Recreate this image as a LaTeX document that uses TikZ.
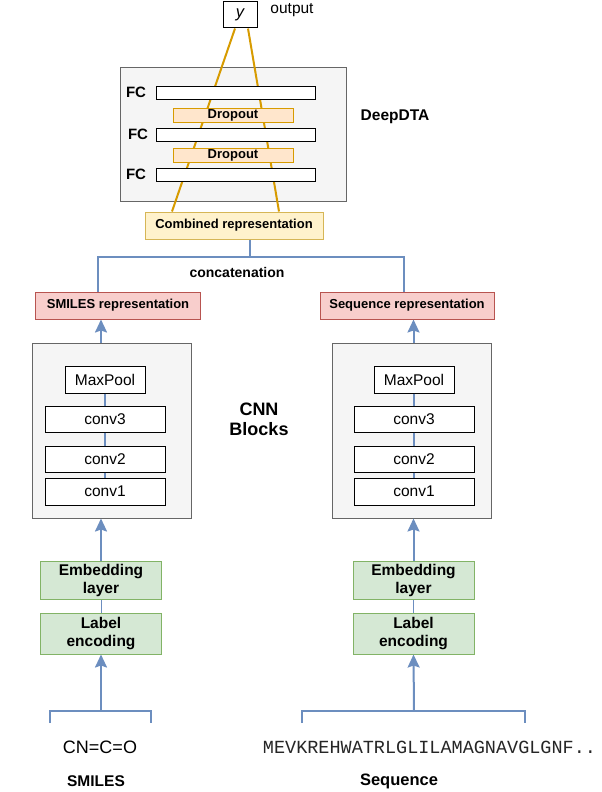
\documentclass[tikz,border=0pt]{standalone}
\usepackage{fontspec}
\setmainfont{Liberation Sans}
\setmonofont{Liberation Mono}
\usetikzlibrary{arrows.meta}

\definecolor{blueline}{HTML}{6C8EBF}
\definecolor{orangeline}{HTML}{D79B00}
\definecolor{grayfill}{HTML}{F5F5F5}
\definecolor{graydraw}{HTML}{666666}
\definecolor{greenfill}{HTML}{D5E8D4}
\definecolor{greendraw}{HTML}{82B366}
\definecolor{redfill}{HTML}{F8CECC}
\definecolor{reddraw}{HTML}{B85450}
\definecolor{yellowfill}{HTML}{FFF2CC}
\definecolor{yellowdraw}{HTML}{D6B656}
\definecolor{dropfill}{HTML}{FFE6CC}

\begin{document}
\begin{tikzpicture}[x=1pt,y=-1pt]
  % Define styles
  \tikzstyle{block} = [draw=graydraw, fill=grayfill, rectangle, line width=1pt, inner sep=0pt]
  \tikzstyle{layer} = [draw=black, fill=white, rectangle, line width=1pt, inner sep=0pt, font=\fontsize{15.5}{18}\selectfont]
  \tikzstyle{fcbar} = [draw=black, fill=white, rectangle, line width=1pt, minimum width=159pt, minimum height=13pt]
  \tikzstyle{drop} = [draw=orangeline, fill=dropfill, rectangle, line width=1pt, inner sep=0pt, minimum width=120pt, minimum height=14pt, font=\fontsize{13}{15}\selectfont\bfseries]
  \tikzstyle{rep} = [draw=reddraw, fill=redfill, rectangle, line width=1pt, inner sep=0pt, minimum height=27pt, font=\fontsize{13}{15}\selectfont\bfseries]
  \tikzstyle{prep} = [draw=greendraw, fill=greenfill, rectangle, line width=1pt, inner sep=0pt, minimum width=121pt, align=center, font=\fontsize{15.5}{18}\selectfont\bfseries]
  \tikzstyle{title} = [align=center, font=\fontsize{16}{20}\selectfont\bfseries]
  \tikzstyle{link} = [draw=blueline, line width=2pt]
  \tikzstyle{arrow} = [link, -{Stealth[length=13pt,width=12pt,inset=2pt]}, blueline]
  \tikzstyle{fcline} = [draw=orangeline, line width=2pt]

  \useasboundingbox (0,0) rectangle (602,792);

  % Output and DeepDTA head
  \node(ybox)[draw=black, fill=white, line width=1pt, minimum width=34pt, minimum height=26pt, inner sep=0pt] at (240,15) {\fontsize{16.5}{18}\selectfont\itshape y};
  \node(outtxt) at (292,10) {\fontsize{15.5}{18}\selectfont output};
  \node(deepbox)[block, minimum width=226pt, minimum height=133pt] at (233,134.5) {};
  \node(deeptxt)[title, font=\fontsize{15.5}{18}\selectfont\bfseries] at (395,117) {DeepDTA};
  \node(comb)[draw=yellowdraw, fill=yellowfill, line width=1pt, inner sep=0pt, minimum width=178pt, minimum height=27pt, font=\fontsize{13}{15}\selectfont\bfseries] at (234,225.5) {Combined representation};

  \draw[fcline] ([xshift=-5pt]ybox.south) -- ([xshift=-62pt]comb.north);
  \draw[fcline] ([xshift=8pt]ybox.south) -- ([xshift=45pt]comb.north);

  \foreach \i/\y/\lx in {1/92.5/136,2/134.5/138,3/174.5/136} {
    \node(fc\i)[fcbar] at (235.5,\y) {};
    \node(fclab\i)[font=\fontsize{15}{18}\selectfont\bfseries] at (\lx,\y) {FC};
  }
  \node(drop1)[drop] at (233,115) {Dropout};
  \node(drop2)[drop] at (233,155) {Dropout};

  % Concatenation
  \node(smilesrep)[rep, minimum width=165pt] at (118,305.5) {SMILES representation};
  \node(seqrep)[rep, minimum width=174pt] at (407,305.5) {Sequence representation};
  \coordinate (cat) at (250,257);
  \coordinate (catL) at (98,257);
  \coordinate (catR) at (404,257);
  \draw[link] (comb.south -| cat) -- (cat);
  \draw[link] (catL |- smilesrep.north) -- (catL) -- (catR) -- (catR |- seqrep.north);
  \node(cattxt)[font=\fontsize{14}{17}\selectfont\bfseries] at (237,272) {concatenation};

  % CNN blocks
  \node(cnnL)[block, minimum width=159pt, minimum height=175pt] at (111.5,430.5) {};
  \node(cnnR)[block, minimum width=159pt, minimum height=175pt] at (411.5,430.5) {};
  \node(cnntxt)[title, font=\fontsize{18}{20}\selectfont\bfseries] at (259,419) {CNN\\Blocks};
  \foreach \s/\x in {L/105,R/414} {
    \node(max\s)[layer, minimum width=80pt, minimum height=27pt] at (\x,379.5) {MaxPool};
    \node(convc\s)[layer, minimum width=120pt, minimum height=26pt] at (\x,419) {conv3};
    \node(convb\s)[layer, minimum width=120pt, minimum height=26pt] at (\x,459) {conv2};
    \node(conva\s)[layer, minimum width=120pt, minimum height=27pt] at (\x,491.5) {conv1};
    \draw[blueline, line width=1.5pt] (max\s.south) -- (convc\s.north);
    \draw[blueline, line width=1.5pt] (convc\s.south) -- (convb\s.north);
    \draw[blueline, line width=1.5pt] (convb\s.south) -- (conva\s.north);
  }

  % Embedding and encoding
  \node(embL)[prep, minimum height=38pt] at (101,580) {Embedding\\layer};
  \node(labL)[prep, minimum height=41pt] at (101,633.5) {Label\\encoding};
  \node(embR)[prep, minimum height=38pt] at (413.5,580) {Embedding\\layer};
  \node(labR)[prep, minimum height=41pt] at (413.5,633.5) {Label\\encoding};
  \draw[blueline, line width=1pt] (embL.south) -- (labL.north);
  \draw[blueline, line width=1pt] (embR.south) -- (labR.north);
  \draw[arrow] (embL.north) -- (embL.north |- cnnL.south);
  \draw[arrow] (embR.north) -- (embR.north |- cnnR.south);
  \draw[arrow] (embL |- cnnL.north) -- (embL |- smilesrep.south);
  \draw[arrow] (embR |- cnnR.north) -- (embR |- seqrep.south);

  % Inputs
  \coordinate (inL) at (101,711);
  \coordinate (inR) at (414,711);
  \draw[link] (50,723) -- (50,711) -- (151,711) -- (151,723);
  \draw[link] (302,723) -- (302,711) -- (525,711) -- (525,723);
  \draw[arrow] (inL) -- (labL.south);
  \draw[arrow] (inR) -- (labR.south);
  \node(smiles) at (100,747) {\fontsize{18}{20}\selectfont CN=C=O};
  \node(seq) at (429.5,747) {\fontsize{18.5}{20}\selectfont\ttfamily\color{black!85}MEVKREHWATRLGLILAMAGNAVGLGNF..};
  \node(smilestxt)[font=\fontsize{15.5}{18}\selectfont\bfseries] at (96,781) {SMILES};
  \node(seqtxt)[font=\fontsize{16.5}{18}\selectfont\bfseries] at (399,781) {Sequence};
\end{tikzpicture}
\end{document}
